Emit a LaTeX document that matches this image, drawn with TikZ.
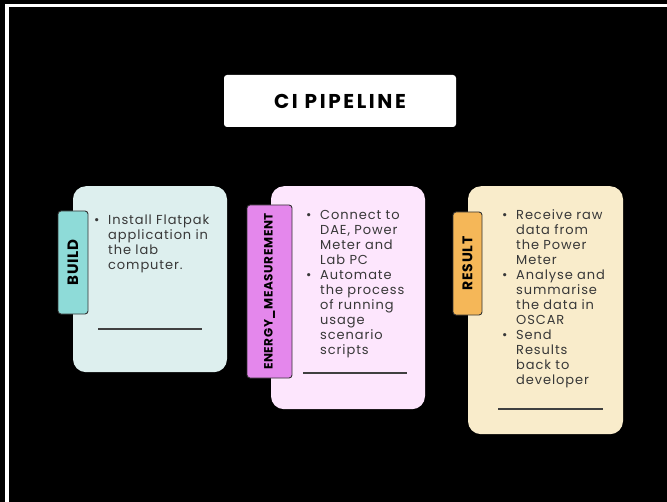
\documentclass[tikz,border=0pt]{standalone}
\usepackage{fontspec}
\setmainfont{Poppins}
\definecolor{buildbg}{HTML}{DDEFEE}
\definecolor{buildtab}{HTML}{8EDBD8}
\definecolor{energybg}{HTML}{FDE6FD}
\definecolor{energytab}{HTML}{E487EC}
\definecolor{resultbg}{HTML}{F9ECCB}
\definecolor{resulttab}{HTML}{F5B758}
\definecolor{bodytext}{HTML}{383838}
\newcommand\bul[1]{\par\leftskip=14bp\noindent\llap{\makebox[14bp][l]{\textbullet}}#1\par}

\begin{document}
\begin{tikzpicture}
[x=1bp,y=-1bp,
  carddecorate/.style={shape=rectangle,rounded corners=13bp,inner sep=0pt},%
  tabdecorate/.style={shape=rectangle,rounded corners=3bp,draw=black!80,line width=0.9bp,
    inner sep=0pt,rotate=90},
  textdecorate/.style={anchor=north west,inner sep=0pt,text width=130bp,text=bodytext,
    font=\fontsize{13bp}{15bp}\selectfont\addfontfeatures{LetterSpace=7}\raggedright},
  linedecorate/.style={-,line width=1.1bp,draw=black!75}]
\useasboundingbox (0,0) rectangle (667,502);
\fill[black] (0,0) rectangle (667,502);
\draw[white,line width=3.5bp] (7,502) -- (7,5.5) -- (667,5.5);
%% title
\node[shape=rectangle,rounded corners=3bp,fill=white,minimum width=232bp,minimum height=52bp,
  font=\fontsize{20bp}{22bp}\selectfont\bfseries\addfontfeatures{LetterSpace=13}]
  (title) at (340,101) {CI PIPELINE};
%% cards
\foreach \cardname/\x/\w/\h in {
  build/150/154/186, energy/348/154/223, result/545.5/155/248}
{
  \node[carddecorate,fill=\cardname bg,minimum width=\w bp,minimum height=\h bp,anchor=north]
    (\cardname) at (\x,186) {};
}
%% tabs
\foreach \tabname/\x/\y/\w/\h/\fs/\tablabel in {
  build/73/262.5/30/103/15/BUILD,
  energy/269.5/291.5/45/173/12/ENERGY\_MEASUREMENT,
  result/467.5/263.5/29/103/14/RESULT}
{
  \node[tabdecorate,fill=\tabname tab,minimum width=\h bp,minimum height=\w bp,
    font=\fontsize{\fs bp}{\fs bp}\selectfont\bfseries\addfontfeatures{LetterSpace=5}]
    (\tabname tab) at (\x,\y) {\tablabel};
}
%% bullet texts
\node[textdecorate] (buildtext) at (94,209) {%
  \bul{Install Flatpak\newline application in\newline the lab\newline computer.}};
\node[textdecorate] (energytext) at (306,204) {%
  \bul{Connect to\newline DAE, Power\newline Meter and\newline Lab PC}%
  \bul{Automate\newline the process\newline of running\newline usage\newline scenario\newline scripts}};
\node[textdecorate] (resulttext) at (502,204) {%
  \bul{Receive raw\newline data from\newline the Power\newline Meter}%
  \bul{Analyse and\newline summarise\newline the data in\newline OSCAR}%
  \bul{Send\newline Results\newline back to\newline developer}};
%% rules
\draw[linedecorate] (98,329) -- (202,329);
\draw[linedecorate] (303,373) -- (407,373);
\draw[linedecorate] (498,409) -- (603,409);
\end{tikzpicture}
\end{document}
